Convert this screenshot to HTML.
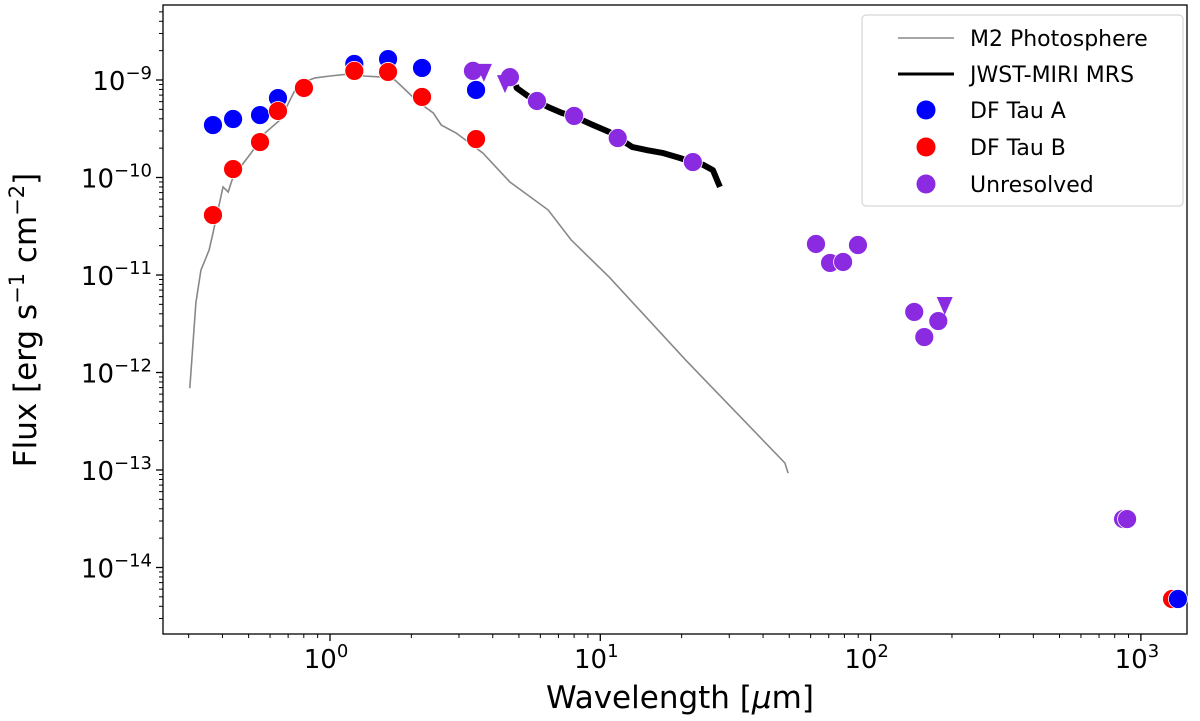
<!DOCTYPE html>
<html><head><meta charset="utf-8"><style>
body{margin:0;background:#fff;}
svg{display:block;font-family:"DejaVu Sans","Liberation Sans",sans-serif;}
</style></head><body>
<svg id="chart" width="1200" height="721" viewBox="0 0 1200 721">
<g id="axes"></g>
<g id="marks"></g>
</svg>
<script>
const photoWave=[0.303,0.319,0.333,0.357,0.369,0.402,0.420,0.434,0.472,0.510,0.575,0.653,0.743,0.795,0.881,1.0,1.175,1.336,1.571,1.74,2.12,2.41,2.58,2.93,3.68,4.63,6.41,7.80,10.8,20.7,48.2,49.5];
const photoFlux=[6.9e-13,5.2e-12,1.12e-11,1.8e-11,2.7e-11,8.0e-11,7.1e-11,9.4e-11,1.34e-10,1.78e-10,2.86e-10,3.89e-10,7.9e-10,9.5e-10,1.05e-9,1.10e-9,1.15e-9,1.10e-9,1.07e-9,1.0e-9,5.94e-10,4.59e-10,3.45e-10,2.86e-10,1.78e-10,9.0e-11,4.65e-11,2.29e-11,9.5e-12,1.34e-12,1.18e-13,9.3e-14];
const miriWave=[4.88,4.9,5.5,6.41,7.2,8.06,9.3,10.8,13.1,15.0,17.1,19.5,22.0,24.0,26.1,27.7];
const miriFlux=[8.9e-10,8.3e-10,6.6e-10,5.28e-10,4.6e-10,4.18e-10,3.5e-10,2.93e-10,2.06e-10,1.9e-10,1.78e-10,1.6e-10,1.44e-10,1.35e-10,1.19e-10,8.0e-11];
const aWave=[0.369,0.438,0.551,0.642,1.23,1.64,2.19,3.47,1371];
const aFlux=[3.45e-10,3.98e-10,4.37e-10,6.53e-10,1.46e-9,1.64e-9,1.33e-9,7.9e-10,4.75e-15];
const bWave=[0.369,0.438,0.551,0.642,0.801,1.23,1.64,2.19,3.47,1304];
const bFlux=[4.12e-11,1.22e-10,2.31e-10,4.81e-10,8.28e-10,1.24e-9,1.21e-9,6.7e-10,2.48e-10,4.75e-15];
const uWave=[3.38,4.63,5.83,8.0,11.6,22.0,62.8,70.8,79.1,89.8,145,158,178,859,889];
const uFlux=[1.24e-9,1.07e-9,6.09e-10,4.28e-10,2.54e-10,1.44e-10,2.08e-11,1.33e-11,1.36e-11,2.03e-11,4.18e-12,2.31e-12,3.37e-12,3.14e-14,3.14e-14];
const limWave=[3.71,4.44,188];
const limFlux=[1.21e-9,9.3e-10,4.92e-12];
const xTickExp=[0,1,2,3];
const yTickExp=[-9,-10,-11,-12,-13,-14];

const L=163,R=1187,T=5,B=634;
const X0=330,XD=270.3,Y0=80,YD=97.5;
function sx(v){return X0+Math.log10(v)*XD;}
function sy(v){return Y0-(Math.log10(v)+9)*YD;}
const NS='http://www.w3.org/2000/svg';
function mk(tag,attrs,parent){const e=document.createElementNS(NS,tag);for(const k in attrs)e.setAttribute(k,attrs[k]);parent.appendChild(e);return e;}
const marks=document.getElementById('marks'),axes=document.getElementById('axes');

let d=photoWave.map((w,i)=>(i?'L':'M')+sx(w).toFixed(1)+' '+sy(photoFlux[i]).toFixed(1)).join(' ');
const ph=mk('path',{d:d,fill:'none',stroke:'#888','stroke-width':1.6},marks);


d=miriWave.map((w,i)=>(i?'L':'M')+sx(w).toFixed(1)+' '+sy(miriFlux[i]).toFixed(1)).join(' ');
const mi=mk('path',{d:d,fill:'none',stroke:'#000','stroke-width':6,'stroke-linejoin':'round'},marks);



function dots(ws,fs,col,name,keep){ws.forEach((w,i)=>{if(!keep(w))return;const c=mk('circle',{cx:sx(w),cy:sy(fs[i]),r:9.5,fill:col,stroke:'#fff','stroke-width':0.8},marks);

});}
dots(aWave,aFlux,'#0000ff','df-tau-a-point',w=>w<1000);
dots(bWave,bFlux,'#ff0000','df-tau-b-point',w=>true);
dots(aWave,aFlux,'#0000ff','df-tau-a-point',w=>w>=1000);
dots(uWave,uFlux,'#8a2be2','unresolved-point',w=>true);
limWave.forEach((w,i)=>{const x=sx(w),y=sy(limFlux[i]);const p=mk('path',{d:`M${x-8} ${y-8}L${x+8} ${y-8}L${x} ${y+10}Z`,fill:'#8a2be2'},marks);

});

const fr=mk('rect',{x:L,y:T,width:R-L,height:B-T,fill:'none',stroke:'#000','stroke-width':1.3},axes);


for(let e=-1;e<=3;e++)for(let m=1;m<10;m++){const x=X0+(e+Math.log10(m))*XD;if(x<L||x>R)continue;mk('line',{x1:x,x2:x,y1:B,y2:B+(m==1?7:4),stroke:'#000','stroke-width':m==1?1.3:1},axes);}
for(let e=-15;e<=-8;e++)for(let m=1;m<10;m++){const y=Y0-(e+9+Math.log10(m))*YD;if(y<T||y>B)continue;mk('line',{x1:L,x2:L-(m==1?7:4),y1:y,y2:y,stroke:'#000','stroke-width':m==1?1.3:1},axes);}
xTickExp.forEach(e=>{const t=mk('text',{x:X0+e*XD-4,y:668,'text-anchor':'middle','font-size':26},axes);t.innerHTML=`10<tspan dy="-11" font-size="18">${e}</tspan>`;

});
yTickExp.forEach(e=>{const t=mk('text',{x:152,y:Y0-(e+9)*YD+10,'text-anchor':'end','font-size':26},axes);t.innerHTML=`10<tspan dy="-11" font-size="18">${'\u2212'+(-e)}</tspan>`;

});
</script>
<svg style="position:absolute;left:0;top:0" width="1200" height="721">
<text x="680" y="708" text-anchor="middle" font-size="31" font-family="DejaVu Sans,sans-serif">Wavelength [<tspan font-style="italic">μ</tspan>m]</text>
<text transform="translate(36,320) rotate(-90)" text-anchor="middle" font-size="31" font-family="DejaVu Sans,sans-serif">Flux [erg s<tspan dy="-12" font-size="21">−1</tspan><tspan dy="12"> cm</tspan><tspan dy="-12" font-size="21">−2</tspan><tspan dy="12">]</tspan></text>
<g font-family="DejaVu Sans,sans-serif" font-size="22">
<rect x="862" y="15" width="321" height="191" rx="4" fill="#fff" fill-opacity="0.8" stroke="#ccc"/>
<line x1="898" x2="954" y1="38" y2="38" stroke="#888" stroke-width="1.6"/>
<text x="970" y="46">M2 Photosphere</text>
<line x1="898" x2="954" y1="74" y2="74" stroke="#000" stroke-width="3"/>
<text x="970" y="82">JWST-MIRI MRS</text>
<circle cx="926" cy="110" r="9.5" fill="#0000ff"/>
<text x="970" y="118">DF Tau A</text>
<circle cx="926" cy="147" r="9.5" fill="#ff0000"/>
<text x="970" y="155">DF Tau B</text>
<circle cx="926" cy="184" r="9.5" fill="#8a2be2"/>
<text x="970" y="192">Unresolved</text>
</g>
</svg>
</body></html>
